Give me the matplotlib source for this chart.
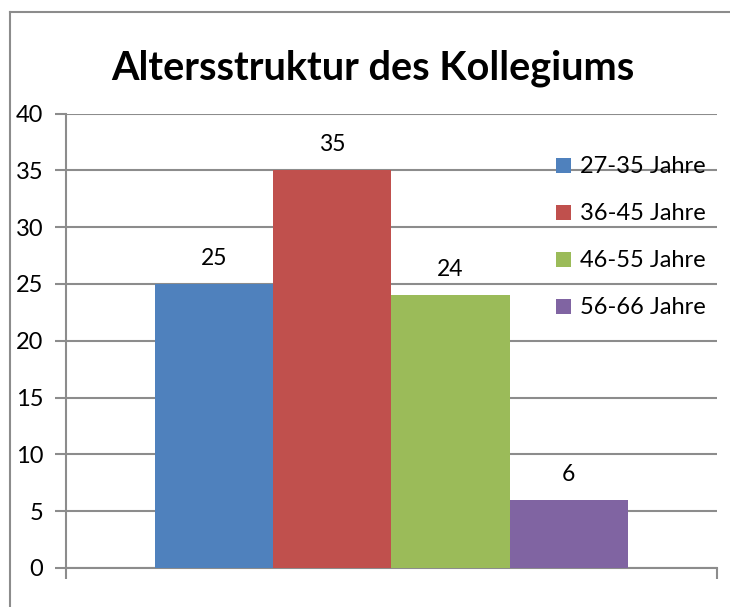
import matplotlib.pyplot as plt
from matplotlib.lines import Line2D

plt.rcParams['font.family'] = ['Lato', 'DejaVu Sans']

title = "Altersstruktur des Kollegiums"
groups = ["27-35 Jahre", "36-45 Jahre", "46-55 Jahre", "56-66 Jahre"]
counts = [25, 35, 24, 6]
colors = ["#4F81BD", "#C0504D", "#9BBB59", "#8064A2"]
yticks = [0, 5, 10, 15, 20, 25, 30, 35, 40]

GRID = "#8c8c8c"

fig = plt.figure(figsize=(7.3, 6.07), dpi=100)
ax = fig.add_axes([66 / 730, 1 - 568 / 607, (717 - 66) / 730, (568 - 113.5) / 607])

w = 0.1813
n = len(groups)
for i, (g, v, c) in enumerate(zip(groups, counts, colors)):
    x = (i - (n - 1) / 2) * w
    ax.bar(x, v, width=w, color=c, label=g, zorder=3)
    ax.annotate(str(v), (x, v), xytext=(0, 11), textcoords="offset points",
                ha="center", va="bottom", fontsize=16.5)

ax.set_xlim(-0.5, 0.5)
ax.set_ylim(0, 40)
ax.set_yticks(yticks)
ax.set_xticks([-0.5, 0.5])
ax.set_xticklabels([])
ax.yaxis.grid(True, color=GRID, linewidth=1.5, zorder=0)
ax.tick_params(axis="y", length=8, width=1.5, color=GRID, labelsize=17, pad=8.5)
ax.tick_params(axis="x", length=8, width=1.5, color=GRID)
for s in ["top", "right"]:
    ax.spines[s].set_visible(False)
for s in ["left", "bottom"]:
    ax.spines[s].set_color(GRID)
    ax.spines[s].set_linewidth(1.5)
ax.set_axisbelow(True)

fig.text(373 / 730, 1 - 68 / 607, title, ha="center", va="center",
         fontsize=28.5, fontweight="bold")

ax.legend(loc="upper left", bbox_to_anchor=(547 / 730, 1 - 147 / 607),
          bbox_transform=fig.transFigure, frameon=False, fontsize=17,
          handlelength=0.6, handleheight=0.6, handletextpad=0.4,
          labelspacing=1.1, borderaxespad=0)

# outer chart border (cropped at right and bottom)
fig.add_artist(Line2D([10 / 730, 10 / 730], [0, 1 - 12 / 607], color=GRID,
                      linewidth=1.5, transform=fig.transFigure))
fig.add_artist(Line2D([10 / 730, 1], [1 - 12 / 607, 1 - 12 / 607], color=GRID,
                      linewidth=1.5, transform=fig.transFigure))

fig.savefig("out.png", dpi=100)
